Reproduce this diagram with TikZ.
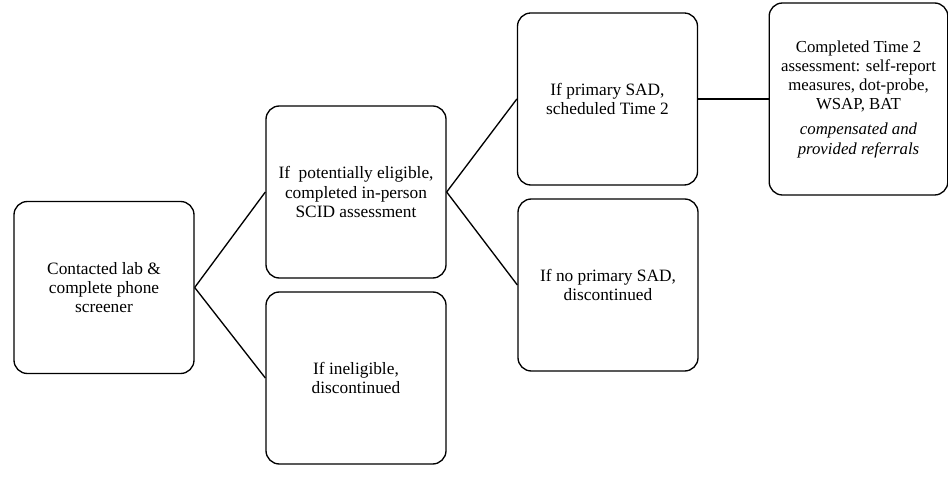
\documentclass[tikz,border=0pt]{standalone}
\usepackage{fontspec}
\setmainfont{Liberation Serif}
\usepackage{tikz}
\usetikzlibrary{positioning}

\begin{document}
\begin{tikzpicture}[
  x=0.75pt, y=-0.75pt,
  every node/.style={draw, rounded corners=10pt, line width=1pt, align=center,
    font=\fontsize{13}{14.3}\selectfont, inner sep=2pt},
  stage/.style={minimum width=135pt, minimum height=129pt},
  link/.style={line width=1pt}]
\useasboundingbox (0,0) rectangle (948,484);
\node[stage] (contact) at (104,287.5) {Contacted lab \&\\complete phone\\screener};
\node[stage] (eligible) at (356,192) {If\ \ potentially eligible,\\completed in-person\\SCID assessment};
\node[stage] (ineligible) at (356,378) {If ineligible,\\discontinued};
\node[stage] (primary) at (607.5,99) {If primary SAD,\\scheduled Time 2};
\node[stage] (noprimary) at (608,285) {If no primary SAD,\\discontinued};
% last box is a bit taller, text slightly tighter
\node[stage, minimum width=134pt, minimum height=144pt,
  font=\fontsize{12.6}{14.3}\selectfont] (timetwo) at (858.5,99)
  {Completed Time 2\\assessment: self-report\\measures, dot-probe,\\WSAP, BAT\\[5pt]
   \itshape compensated and\\\itshape provided referrals};
\draw[link] (contact.east) -- (eligible.west);
\draw[link] (contact.east) -- (ineligible.west);
\draw[link] (eligible.east) -- (primary.west);
\draw[link] (eligible.east) -- (noprimary.west);
\draw[link] (primary.east) -- (timetwo.west);
\end{tikzpicture}
\end{document}
